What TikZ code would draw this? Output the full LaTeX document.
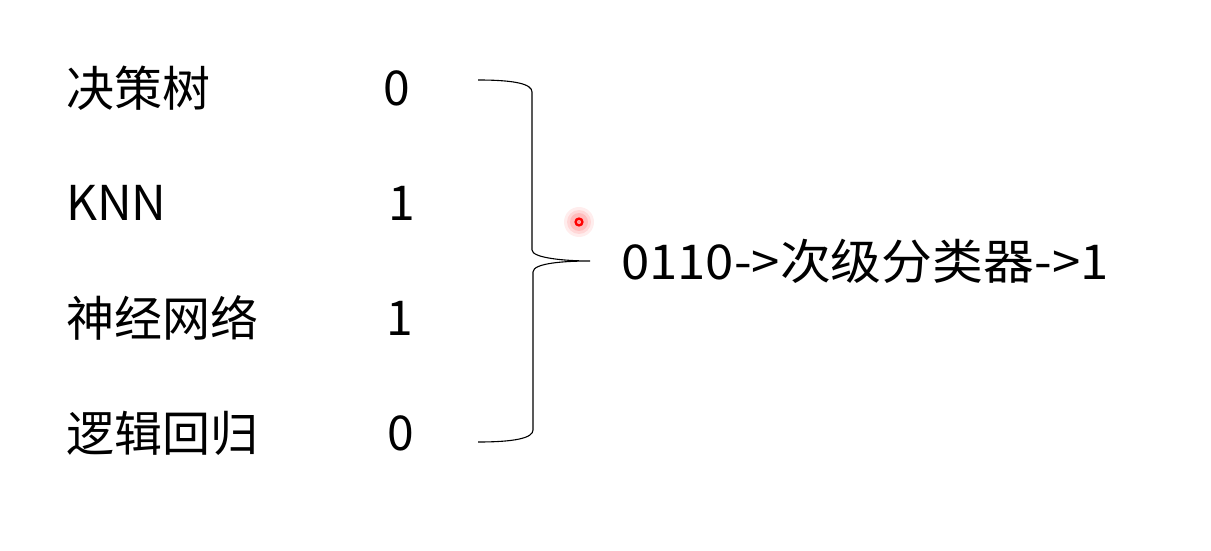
\documentclass[tikz,border=0pt]{standalone}
\usepackage{fontspec}
\setmainfont{Noto Sans CJK SC}
\begin{document}
\begin{tikzpicture}[x=1pt,y=-1pt,
  lbl/.style={anchor=west,inner sep=0pt,font=\fontsize{48}{52}\selectfont},
  val/.style={anchor=center,inner sep=0pt,font=\fontsize{48}{52}\selectfont},
  bracepath/.style={draw=black,line width=1.1pt}]
\useasboundingbox[fill=white] (0,0) rectangle (1211,551);
\node[lbl] (l1) at (66,88) {决策树};
\node[lbl] (l2) at (66,203) {KNN};
\node[lbl] (l3) at (66,318) {神经网络};
\node[lbl] (l4) at (66,433) {逻辑回归};
\node[val] (v1) at (397,88) {0};
\node[val] (v2) at (402,203) {1};
\node[val] (v3) at (400,318) {1};
\node[val] (v4) at (401,433) {0};
\node[lbl] (res) at (621,261) {\scalebox{1.06}[1]{0110->次级分类器->1}};
\coordinate (btop) at (478,80);
\coordinate (bbot) at (478,442);
\coordinate (btip) at (590,261);
\draw[bracepath] (btop) .. controls (515,80) and (532,84) .. (532,92)
  -- (532,250) .. controls (532,258) and (565,261) .. (btip)
  .. controls (565,261) and (533,263) .. (533,272)
  -- (533,430) .. controls (533,438) and (515,442) .. (bbot);
\coordinate (dot) at (579,222);
\fill[red,opacity=0.07] (dot) circle (15);
\fill[red,opacity=0.09] (dot) circle (12);
\fill[red,opacity=0.12] (dot) circle (9);
\draw[red,line width=2.4pt] (dot) circle (3.4);
\fill[red!40] (dot) circle (1.6);
\end{tikzpicture}
\end{document}
